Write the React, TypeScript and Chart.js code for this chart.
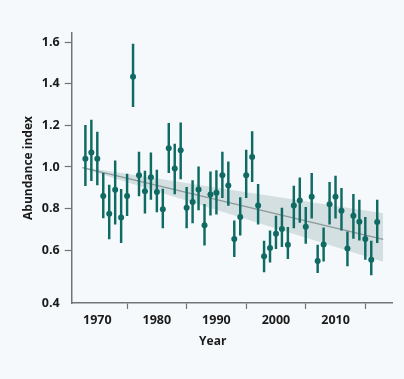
import React, { useEffect, useRef } from 'react';
import { Chart, registerables } from 'chart.js';

Chart.register(...registerables);

// ---- Data ----
const years = [
  1968, 1969, 1970, 1971, 1972, 1973, 1974, 1975, 1976, 1977,
  1978, 1979, 1980, 1981, 1982, 1983, 1984, 1985, 1986, 1987,
  1988, 1989, 1990, 1991, 1992, 1993, 1994, 1995, 1996, 1997,
  1998, 1999, 2000, 2001, 2002, 2003, 2004, 2005, 2006, 2007,
  2008, 2009, 2010, 2011, 2012, 2013, 2014, 2015, 2016, 2017,
];
const abundance = [
  1.04, 1.07, 1.04, 0.86, 0.775, 0.89, 0.757, 0.86, 1.434, 0.96,
  0.883, 0.951, 0.879, 0.796, 1.09, 0.993, 1.08, 0.804, 0.831, 0.892,
  0.719, 0.868, 0.876, 0.96, 0.911, 0.653, 0.759, 0.96, 1.048, 0.815,
  0.57, 0.61, 0.678, 0.701, 0.626, 0.815, 0.839, 0.712, 0.857, 0.547,
  0.627, 0.82, 0.857, 0.789, 0.608, 0.765, 0.736, 0.653, 0.553, 0.735,
];
const lowerCI = [
  0.91, 0.934, 0.913, 0.755, 0.653, 0.725, 0.635, 0.765, 1.29, 0.861,
  0.777, 0.844, 0.784, 0.707, 0.972, 0.87, 0.942, 0.707, 0.731, 0.793,
  0.624, 0.768, 0.773, 0.852, 0.815, 0.568, 0.672, 0.852, 0.929, 0.724,
  0.495, 0.541, 0.606, 0.616, 0.558, 0.707, 0.733, 0.632, 0.753, 0.491,
  0.547, 0.725, 0.753, 0.696, 0.523, 0.656, 0.648, 0.555, 0.48, 0.635,
];
const upperCI = [
  1.2, 1.226, 1.168, 0.969, 0.913, 1.03, 0.892, 0.966, 1.592, 1.072,
  0.98, 1.068, 0.985, 0.894, 1.21, 1.11, 1.213, 0.902, 0.934, 1.001,
  0.82, 0.977, 0.982, 1.072, 1.025, 0.741, 0.852, 1.081, 1.17, 0.916,
  0.643, 0.693, 0.764, 0.802, 0.709, 0.908, 0.948, 0.806, 0.969, 0.624,
  0.707, 0.926, 0.956, 0.897, 0.688, 0.868, 0.841, 0.757, 0.643, 0.841,
];

const trendYears = [1967.5, 2018];
const trendFit = [0.997, 0.651];
const bandUpper = [1.0, 0.777];
const bandLower = [0.994, 0.544];

const xTickValues = [1970, 1980, 1990, 2000, 2010];
const yTickValues = [0.4, 0.6, 0.8, 1.0, 1.2, 1.4, 1.6];
const yTickLabels = ['0.4', '0.6', '0.8', '1.0', '1.2', '1.4', '1.6'];

const xTitle = 'Year';
const yTitle = 'Abundance index';

// ---- Styles ----
const BG = '#f6f9fb';
const TEAL = '#0f6a64';
const BAND = '#d3dfe0';
const TREND = '#8c9899';
const AXIS = '#6e767b';
const TEXT = '#1a1a1a';
const FONT = '"Open Sans", "Noto Sans", sans-serif';

const xTitlePlugin = {
  id: 'xTitleDraw',
  afterDraw(chart: any) {
    const { ctx, chartArea } = chart;
    ctx.save();
    ctx.font = `bold 12px ${FONT}`;
    ctx.fillStyle = TEXT;
    ctx.textAlign = 'center';
    ctx.textBaseline = 'middle';
    ctx.fillText(xTitle, chartArea.left + 141, chartArea.bottom + 39);
    ctx.restore();
  },
};

export default function App() {
  const canvasRef = useRef<HTMLCanvasElement | null>(null);

  useEffect(() => {
    document.body.style.margin = '0';
    document.body.style.background = BG;
    const canvas = canvasRef.current;
    if (!canvas) return;

    const chart = new Chart(canvas, {
      type: 'scatter',
      data: {
        datasets: [
          {
            type: 'scatter',
            data: years.map((y, i) => ({ x: y, y: abundance[i] })),
            pointRadius: 3,
            pointBackgroundColor: TEAL,
            pointBorderWidth: 0,
            backgroundColor: TEAL,
            borderColor: TEAL,
            order: 0,
          } as any,
          {
            type: 'bar',
            data: years.map((y, i) => ({ x: y, y: [lowerCI[i], upperCI[i]] })),
            backgroundColor: TEAL,
            borderWidth: 0,
            barThickness: 1.8,
            order: 1,
          } as any,
          {
            type: 'line',
            data: trendYears.map((y, i) => ({ x: y, y: trendFit[i] })),
            borderColor: TREND,
            borderWidth: 1.2,
            pointRadius: 0,
            fill: false,
            order: 2,
          } as any,
          {
            type: 'line',
            data: trendYears.map((y, i) => ({ x: y, y: bandUpper[i] })),
            borderWidth: 0,
            borderColor: 'rgba(0,0,0,0)',
            backgroundColor: BAND,
            pointRadius: 0,
            fill: '+1',
            order: 3,
          } as any,
          {
            type: 'line',
            data: trendYears.map((y, i) => ({ x: y, y: bandLower[i] })),
            borderWidth: 0,
            borderColor: 'rgba(0,0,0,0)',
            pointRadius: 0,
            fill: false,
            order: 4,
          } as any,
        ],
      },
      options: {
        animation: false,
        responsive: true,
        maintainAspectRatio: false,
        layout: { padding: { left: 0, top: 33, right: 11.3, bottom: 36 } },
        plugins: {
          legend: { display: false },
          tooltip: { enabled: false },
        },
        scales: {
          x: {
            type: 'linear',
            min: 1965.7,
            max: 2019.6,
            offset: false,
            afterBuildTicks: (scale: any) => {
              scale.ticks = xTickValues.map((v) => ({ value: v }));
            },
            afterFit: (scale: any) => {
              scale.height = 40;
            },
            ticks: {
              callback: (v: any) => String(v),
              font: { family: FONT, size: 12.5, weight: 'bold' },
              color: TEXT,
              padding: 4,
              maxRotation: 0,
            },
            grid: {
              drawOnChartArea: false,
              drawTicks: true,
              tickLength: 6,
              tickColor: AXIS,
              tickWidth: 1.2,
            },
            border: { display: true, color: AXIS, width: 1.5 },
          },
          y: {
            type: 'linear',
            min: 0.345,
            max: 1.645,
            afterBuildTicks: (scale: any) => {
              scale.ticks = yTickValues.map((v, i) => ({ value: i === 0 ? scale.min : v }));
            },
            afterFit: (scale: any) => {
              scale.width = 71.7;
            },
            ticks: {
              callback: (_v: any, index: number) => yTickLabels[index],
              font: { family: FONT, size: 12.5, weight: 'bold' },
              color: TEXT,
              padding: 5,
            },
            grid: {
              drawOnChartArea: false,
              drawTicks: true,
              tickLength: 7,
              tickColor: (ctx: any) => (ctx.index === 0 ? 'rgba(0,0,0,0)' : AXIS),
              tickWidth: 1.2,
            },
            border: { display: true, color: AXIS, width: 1.5 },
            title: {
              display: true,
              text: yTitle,
              font: { family: FONT, size: 12, weight: 'bold' },
              color: TEXT,
              padding: { top: 21, bottom: 0 },
            },
          },
        },
      } as any,
      plugins: [xTitlePlugin],
    });

    return () => chart.destroy();
  }, []);

  return (
    <div style={{ width: 404, height: 379, background: BG, position: 'relative' }}>
      <canvas ref={canvasRef} />
    </div>
  );
}
